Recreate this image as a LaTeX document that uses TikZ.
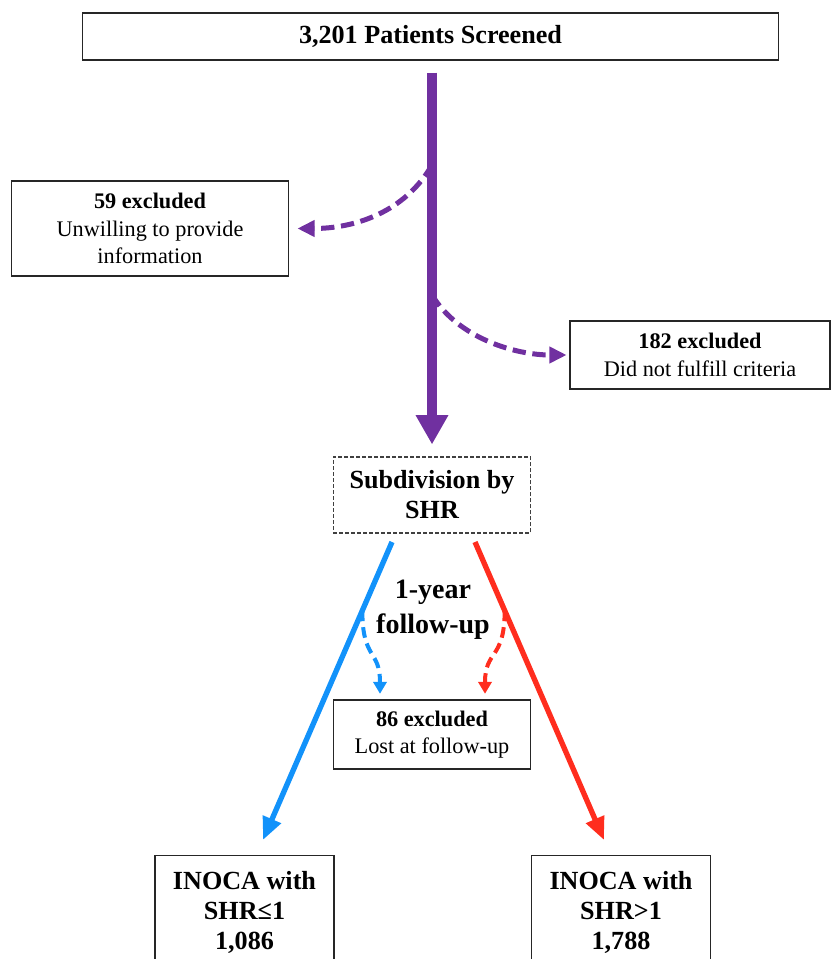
\documentclass[tikz,border=0pt]{standalone}
\usepackage{fontspec}
\setmainfont{Liberation Serif}
\usepackage{xcolor}
\usetikzlibrary{shapes,arrows.meta,positioning,calc}

\definecolor{flowpurple}{RGB}{112,48,160}
\definecolor{flowblue}{RGB}{18,146,250}
\definecolor{flowred}{RGB}{255,45,30}

\begin{document}
\begin{tikzpicture}[x=0.75pt, y=-0.75pt,
    box/.style={rectangle, draw=black!85, line width=1.1pt, align=center, inner sep=0pt,
        font=\fontsize{16.7}{20.5}\selectfont},
    headbox/.style={box, font=\fontsize{19.6}{22.5}\selectfont\bfseries},
    mainflow/.style={flowpurple, line width=7.5pt, -{Triangle[width=23pt,length=22pt]}},
    dropflow/.style={flowpurple, line width=3.75pt, dash pattern=on 10pt off 5pt,
        -{Triangle[width=12pt,length=13pt]}},
    splitflow/.style={line width=4pt, -{Triangle[width=14pt,length=17pt]}},
    lostflow/.style={line width=3pt, dash pattern=on 8pt off 4.5pt,
        -{Triangle[width=10pt,length=9pt]}}]
    \useasboundingbox (0,0) rectangle (831,959);
    \clip (0,0) rectangle (831,959);

    \node (screened) [headbox, minimum width=522pt, minimum height=35pt] at (430.5,36.5) {3,201 Patients Screened};
    \node (unwilling) [box, minimum width=208pt, minimum height=71pt] at (150,228.5)
        {\textbf{59 excluded}\\Unwilling to provide\\information};
    \node (criteria) [box, minimum width=195pt, minimum height=51pt] at (700,355)
        {\textbf{182 excluded}\\Did not fulfill criteria};
    \node (subdiv) [headbox, draw=black!75, line width=0.8pt, dash pattern=on 3pt off 1.5pt,
        minimum width=148pt, minimum height=57pt] at (432,495) {Subdivision by\\SHR};
    \node (followup) [font=\fontsize{21}{26}\selectfont\bfseries, align=center] at (433,610) {1-year\\follow-up};
    \node (lost) [box, minimum width=148pt, minimum height=52pt] at (432,734.5)
        {\textbf{86 excluded}\\Lost at follow-up};
    \node (shrlow) [headbox, anchor=north, minimum width=134pt, inner ysep=12pt] at (244.5,855)
        {INOCA with\\SHR≤1\\1,086};
    \node (shrhigh) [headbox, anchor=north, minimum width=134pt, inner ysep=12pt] at (621,855)
        {INOCA with\\SHR>1\\1,788};

    % points on the flow lines
    \coordinate (leftout) at (432,165);
    \coordinate (rightout) at (432,295);
    \coordinate (bluestart) at (392,542);
    \coordinate (blueend) at (263,840);
    \coordinate (redstart) at (475,542);
    \coordinate (redend) at (604,840);
    \coordinate (bluelost) at ($(bluestart)!0.23!(blueend)$);
    \coordinate (redlost) at ($(redstart)!0.23!(redend)$);

    \draw [mainflow, shorten <=9pt, shorten >=9pt] (screened.south -| subdiv.north) -- (subdiv.north);
    \draw [dropflow, shorten >=6pt] (leftout) .. controls (405,212) and (355,228.5) .. (unwilling.east);
    \draw [dropflow, shorten >=2pt] (rightout) .. controls (458,338) and (515,355) .. (criteria.west);

    \draw [splitflow, flowblue] (bluestart) -- (blueend);
    \draw [splitflow, flowred] (redstart) -- (redend);

    \draw [lostflow, flowblue, shorten >=4pt] (bluelost) .. controls ($(bluelost)+(0,50)$) and ($(lost.north)+(-52,-50)$) .. ($(lost.north)+(-52,0)$);
    \draw [lostflow, flowred, shorten >=4pt] (redlost) .. controls ($(redlost)+(0,50)$) and ($(lost.north)+(53,-50)$) .. ($(lost.north)+(53,0)$);
\end{tikzpicture}
\end{document}
